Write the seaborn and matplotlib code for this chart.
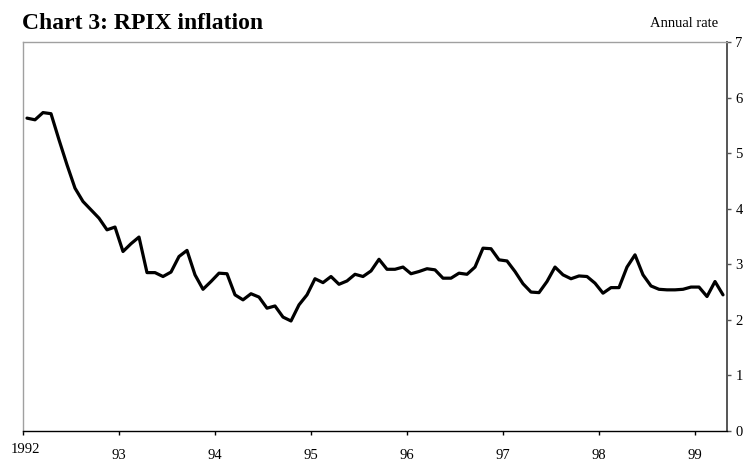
import matplotlib
matplotlib.use("Agg")
import matplotlib.pyplot as plt
import numpy as np
import pandas as pd
import seaborn as sns

# monthly RPIX inflation, Jan 1992 - Apr 1999 (per cent, annual rate)
rpix = [
    5.63, 5.60, 5.73, 5.71, 5.24, 4.79, 4.37, 4.13, 3.98, 3.83, 3.62, 3.67,  # 1992
    3.23, 3.37, 3.49, 2.85, 2.85, 2.78, 2.86, 3.14, 3.25, 2.81, 2.55, 2.69,  # 1993
    2.84, 2.83, 2.45, 2.36, 2.47, 2.41, 2.21, 2.25, 2.05, 1.98, 2.27, 2.45,  # 1994
    2.74, 2.67, 2.78, 2.64, 2.70, 2.82, 2.78, 2.88, 3.09, 2.91, 2.91, 2.95,  # 1995
    2.83, 2.87, 2.92, 2.90, 2.75, 2.75, 2.84, 2.82, 2.95, 3.29, 3.28, 3.08,  # 1996
    3.06, 2.87, 2.65, 2.50, 2.49, 2.69, 2.95, 2.81, 2.74, 2.79, 2.78, 2.66,  # 1997
    2.48, 2.58, 2.58, 2.95, 3.17, 2.81, 2.61, 2.55, 2.54, 2.54, 2.55, 2.59,  # 1998
    2.59, 2.42, 2.69, 2.45,                                                  # 1999
]
start_year = 1992
year_ticks = [1992, 1993, 1994, 1995, 1996, 1997, 1998, 1999]
year_labels = ["1992", "93", "94", "95", "96", "97", "98", "99"]
y_ticks = [0, 1, 2, 3, 4, 5, 6, 7]

# plot each month at its mid point
df = pd.DataFrame({"rpix": rpix})
df["t"] = start_year + (np.arange(len(df)) + 0.5) / 12

sns.set_theme(style="white")
plt.rcParams["font.family"] = ["Liberation Serif", "DejaVu Serif"]
plt.rcParams["text.color"] = "black"

W, H = 747, 462
fig = plt.figure(figsize=(W / 100, H / 100), dpi=100)
ax = fig.add_axes([23 / W, 1 - 431 / H, (727 - 23) / W, (431 - 42) / H])

sns.lineplot(data=df, x="t", y="rpix", ax=ax, color="black", linewidth=2.3)

ax.set_xlim(start_year, start_year + len(rpix) / 12)
ax.set_ylim(0, 7)
ax.set_xlabel("")
ax.set_ylabel("")

ax.set_xticks(year_ticks)
ax.set_xticklabels([""] + year_labels[1:])
ax.tick_params(axis="x", direction="out", length=3, width=1, color="black",
               pad=10, labelsize=10.5, labelcolor="black", bottom=True)
# first year label sits a little higher
ax.annotate(year_labels[0], xy=(year_ticks[0], 0), xycoords="data",
            xytext=(2, -8.5), textcoords="offset points", ha="center", va="top",
            fontsize=10.5, color="black")

ax.yaxis.tick_right()
ax.set_yticks(y_ticks)
ax.tick_params(axis="y", direction="out", length=3, width=1, color="#555555",
               pad=3, labelsize=10.5, labelcolor="black", right=True, left=False)

for side in ["left", "top"]:
    ax.spines[side].set_color("#a0a0a0")
    ax.spines[side].set_linewidth(1.0)
ax.spines["bottom"].set_color("black")
ax.spines["bottom"].set_linewidth(1.0)
ax.spines["right"].set_color("#555555")
ax.spines["right"].set_linewidth(1.4)
ax.grid(False)

fig.text(22 / W, 1 - 29 / H, "Chart 3: RPIX inflation", fontsize=17,
         fontweight="bold", ha="left", va="baseline", color="black")
fig.text(718 / W, 1 - 27 / H, "Annual rate", fontsize=10.5,
         ha="right", va="baseline", color="black")

fig.savefig("out.png", dpi=100)
